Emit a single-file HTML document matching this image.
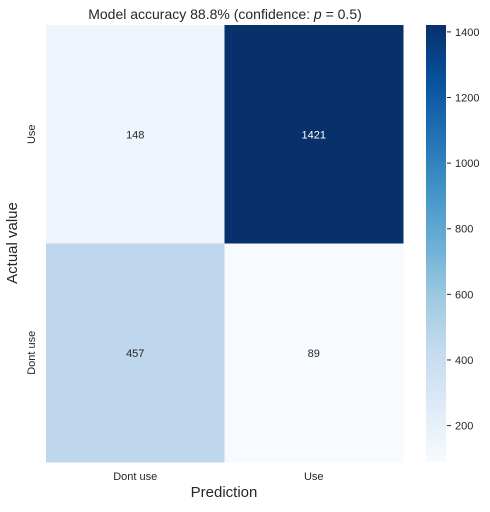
<!DOCTYPE html>
<html><head><meta charset="utf-8"><style>
body{margin:0;background:#fff;font-family:"Liberation Sans","DejaVu Sans",sans-serif}
svg text{fill:#262626}
</style></head><body>
<svg width="490" height="507" xmlns="http://www.w3.org/2000/svg">
<defs><linearGradient id="blues" x1="0" y1="1" x2="0" y2="0">
<stop offset="0" stop-color="#f7fbff"/><stop offset="0.125" stop-color="#deebf7"/><stop offset="0.25" stop-color="#c6dbef"/><stop offset="0.375" stop-color="#9ecae1"/><stop offset="0.5" stop-color="#6baed6"/><stop offset="0.625" stop-color="#4292c6"/><stop offset="0.75" stop-color="#2171b5"/><stop offset="0.875" stop-color="#08519c"/><stop offset="1" stop-color="#08306b"/>
</linearGradient></defs>
<text x="225" y="19" font-size="14" text-anchor="middle">Model accuracy 88.8% (confidence: <tspan font-style="italic">p</tspan> = 0.5)</text>
<g id="cells"></g>
<rect x="426" y="25" width="20" height="437" fill="url(#blues)"/>
<g id="cbticks"></g>
<text x="224" y="497" font-size="15" text-anchor="middle">Prediction</text>
<text transform="translate(17,243) rotate(-90)" font-size="15" text-anchor="middle">Actual value</text>
</svg>
<script>
const rowLabels=["Use","Dont use"];
const colLabels=["Dont use","Use"];
const values=[[148,1421],[457,89]];
const cbTicks=[200,400,600,800,1000,1200,1400];
const ns="http://www.w3.org/2000/svg";
const L=46,T=25,W=357,H=437;
const vmin=Math.min(...values.flat()),vmax=Math.max(...values.flat());
const stops=["#f7fbff","#deebf7","#c6dbef","#9ecae1","#6baed6","#4292c6","#2171b5","#08519c","#08306b"].map(h=>[1,3,5].map(i=>parseInt(h.substr(i,2),16)));
function color(v){let t=(v-vmin)/(vmax-vmin)*8;let i=Math.min(7,Math.floor(t)),f=t-i;const c=stops[i].map((a,k)=>Math.round(a+(stops[i+1][k]-a)*f));return `rgb(${c})`;}
const cw=W/colLabels.length,ch=H/rowLabels.length;
const cells=document.getElementById('cells');
function mk(tag,attrs,txt){const e=document.createElementNS(ns,tag);for(const k in attrs)e.setAttribute(k,attrs[k]);if(txt!==undefined)e.textContent=txt;return e;}
values.forEach((row,r)=>row.forEach((v,c)=>{
 const rect=mk('rect',{x:L+c*cw,y:T+r*ch,width:cw+0.5,height:ch+0.5,fill:color(v)});
 
 
 cells.appendChild(rect);
 const t=mk('text',{x:L+c*cw+cw/2,y:T+r*ch+ch/2+4,'font-size':11,'text-anchor':'middle'},v);
 if((v-vmin)/(vmax-vmin)>0.6)t.style.fill='#fff';
 
 
 cells.appendChild(t);
}));
colLabels.forEach((l,c)=>{const t=mk('text',{x:L+c*cw+cw/2,y:480,'font-size':11,'text-anchor':'middle'},l);
 
 
 cells.appendChild(t);});
rowLabels.forEach((l,r)=>{const y=T+r*ch+ch/2;const t=mk('text',{transform:`translate(35,${y}) rotate(-90)`,'font-size':11,'text-anchor':'middle'},l);
 
 
 cells.appendChild(t);});
const cb=document.getElementById('cbticks');
cbTicks.forEach(v=>{const y=T+H-(v-vmin)/(vmax-vmin)*H;
 const ln=mk('line',{x1:447,x2:451,y1:y,y2:y,stroke:'#262626','stroke-width':1});
 
 
 cb.appendChild(ln);
 const t=mk('text',{x:455,y:y+4,'font-size':11},v);
 
 
 cb.appendChild(t);});
</script>
</body></html>
